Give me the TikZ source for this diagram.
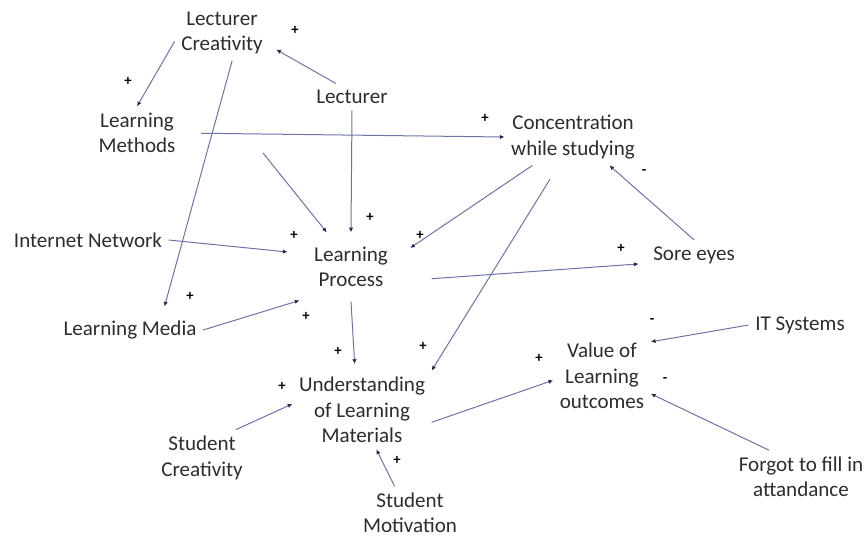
\documentclass[tikz,border=0pt]{standalone}
\usepackage{fontspec}
\setmainfont{Carlito}
\usetikzlibrary{arrows.meta}

\definecolor{linkblue}{RGB}{108,116,165}
\definecolor{tipblue}{RGB}{35,40,75}
\definecolor{textgray}{RGB}{45,45,45}

\begin{document}
\begin{tikzpicture}[x=0.75pt, y=-0.75pt,
    every node/.style={text=textgray},
    factor/.style={align=center, inner sep=2pt, outer sep=3pt, font=\fontsize{15.8}{19}\selectfont},
    sign/.style={inner sep=0pt, text=black, font=\fontsize{11}{11}\selectfont\bfseries},
    link/.style={draw=linkblue, line width=0.75pt, -{Latex[length=3.5pt,width=3.2pt,color=tipblue]}}]
    \useasboundingbox (0,0) rectangle (864,537);

    % factors
    \node[factor] (lcreat) at (222,33) {Lecturer\\Creativity};
    \node[factor] (lecturer) at (352,97) {Lecturer};
    \node[factor] (methods) at (137,133) {Learning\\Methods};
    \node[factor] (conc) at (573,137) {Concentration\\while studying};
    \node[factor] (internet) at (88,240) {Internet Network};
    \node[factor, outer sep=9pt] (process) at (351,267) {Learning\\Process};
    \node[factor] (sore) at (694,255) {Sore eyes};
    \node[factor] (media) at (130,330) {Learning Media};
    \node[factor] (it) at (800,325) {IT Systems};
    \node[factor] (value) at (602,376) {Value of\\Learning\\outcomes};
    \node[factor] (und) at (362,410) {Understanding\\of Learning\\Materials};
    \node[factor] (screat) at (202,458) {Student\\Creativity};
    \node[factor] (forgot) at (801,477) {Forgot to fill in\\attandance};
    \node[factor] (smot) at (410,513) {Student\\Motivation};

    \coordinate (mcue) at (263,153);

    % links
    \draw[link] (lcreat.190) to (methods.north);
    \draw[link, shorten >=6pt] (lecturer.140) to (lcreat.-15);
    \draw[link, shorten >=6pt] (lcreat.-70) to (media.26);
    \draw[link, shorten <=14pt] (methods.east) to (conc.west);
    \draw[link] (lecturer.south) to (process.north);
    \draw[link] (mcue) to (process.125);
    \draw[link, shorten >=9pt] (internet.east) to (process.165);
    \draw[link, shorten >=7pt] (conc.215) to (process.15);
    \draw[link, shorten <=12pt] (conc.243) to (und.north east);
    \draw[link] (sore.north) to (conc.-38);
    \draw[link, shorten <=22pt, shorten >=6pt] (process.-15) to (sore.190);
    \draw[link] (media.east) to (process.213);
    \draw[link, shorten >=5pt] (process.south) to (und.100);
    \draw[link] (screat.40) to (und.175);
    \draw[link] (und.-10) to (value.185);
    \draw[link] (it.west) to (value.35);
    \draw[link] (forgot.140) to (value.-20);
    \draw[link] (smot.120) to (und.-70);

    % polarities
    \node[sign] (p1) at (128,81) {+};
    \node[sign] (p2) at (295,30) {+};
    \node[sign] (p3) at (190,296) {+};
    \node[sign] (p4) at (485,118) {+};
    \node[sign] (p5) at (370,217) {+};
    \node[sign] (p6) at (294,235) {+};
    \node[sign] (p7) at (420,235) {+};
    \node[sign] (p8) at (621,248) {+};
    \node[sign] (m1) at (644,172) {-};
    \node[sign] (p9) at (306,316) {+};
    \node[sign] (p10) at (338,351) {+};
    \node[sign] (p11) at (423,346) {+};
    \node[sign] (p12) at (282,386) {+};
    \node[sign] (p13) at (397,460) {+};
    \node[sign] (p14) at (539,358) {+};
    \node[sign] (m2) at (652,321) {-};
    \node[sign] (m3) at (665,380) {-};
\end{tikzpicture}
\end{document}
